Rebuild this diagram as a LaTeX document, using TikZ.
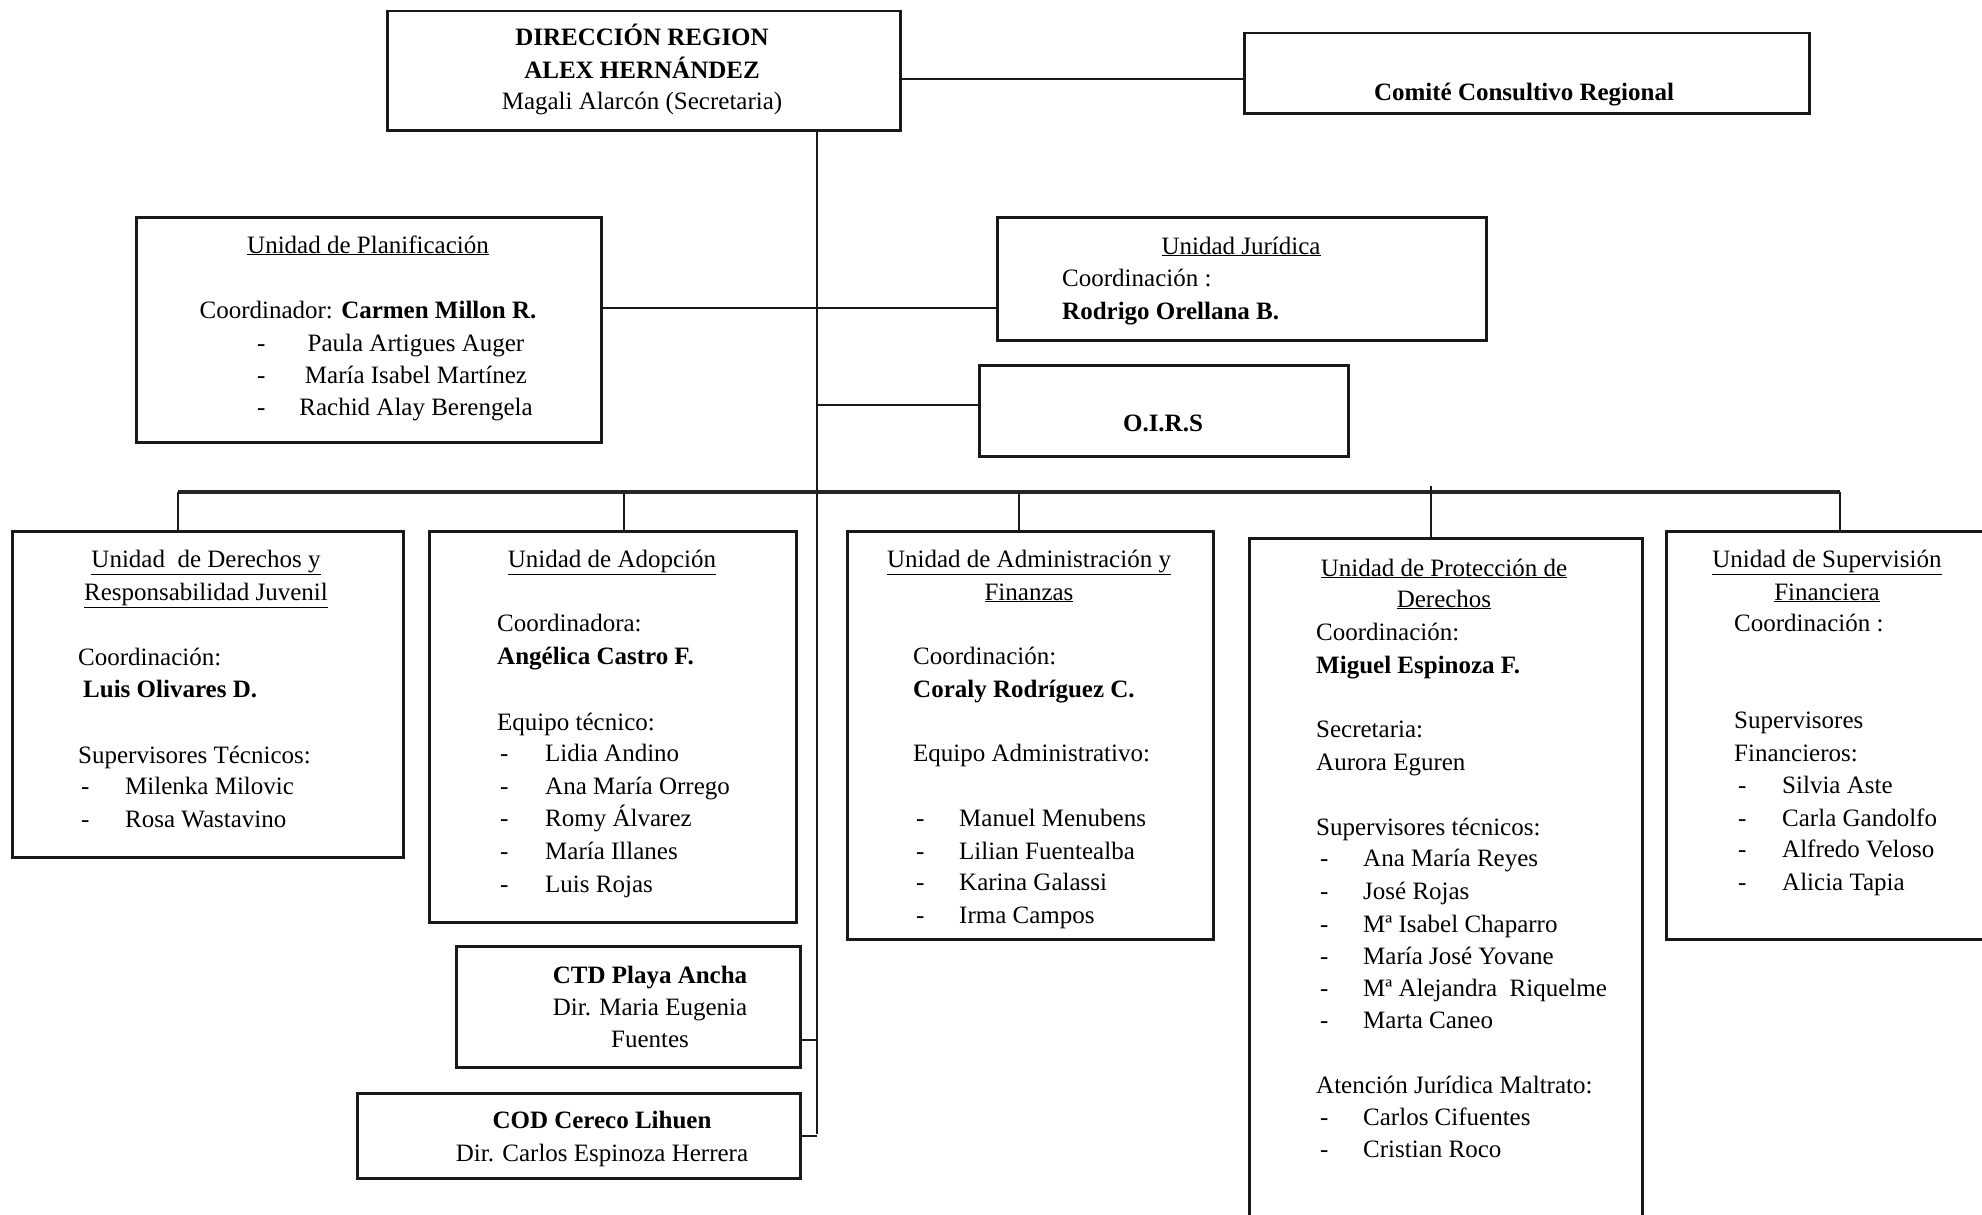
\documentclass[tikz,border=0pt]{standalone}
\usepackage{fontspec}
\setmainfont{Liberation Serif}
\newcommand\bodyfont{\fontsize{25}{32.5}\selectfont}
\newcounter{tno}
\newcommand\tx[4][base west]{\stepcounter{tno}\node[txt,anchor=#1] (tx\arabic{tno}) at (#2,#3) {#4};}
\newcommand\itm[4]{\tx{#1}{#3}{-}\tx{#2}{#3}{#4}}
\begin{document}
\begin{tikzpicture}[x=1pt,y=-1pt,
  box/.style={draw=black!90, line width=2.5pt, anchor=north west, inner sep=0pt, fill=none},
  conn/.style={draw=black!90, line width=2pt},
  busline/.style={draw=black!85, line width=3.4pt},
  txt/.style={inner sep=0pt, font=\bodyfont, text=black}]
\useasboundingbox (0,0) rectangle (1982,1215);
\clip (0,0) rectangle (1982,1215);
\fill[white] (0,0) rectangle (1982,1215);

% boxes
\node[box, minimum width=513pt, minimum height=119pt] (dir) at (386,10) {};
\node[box, minimum width=565pt, minimum height=80pt] (com) at (1243,32) {};
\node[box, minimum width=465pt, minimum height=225pt] (plan) at (135,216) {};
\node[box, minimum width=489pt, minimum height=123pt] (jur) at (996,216) {};
\node[box, minimum width=369pt, minimum height=91pt] (oirs) at (978,364) {};
\node[box, minimum width=391pt, minimum height=326pt] (der) at (11,530) {};
\node[box, minimum width=367pt, minimum height=391pt] (adop) at (428,530) {};
\node[box, minimum width=366pt, minimum height=408pt] (adm) at (846,530) {};
\node[box, minimum width=393pt, minimum height=720pt] (prot) at (1248,537) {};
\node[box, minimum width=330pt, minimum height=408pt] (sup) at (1665,530) {};
\node[box, minimum width=344pt, minimum height=121pt] (ctd) at (455,945) {};
\node[box, minimum width=443pt, minimum height=85pt] (cod) at (356,1092) {};

% connectors
\coordinate (trunkbot) at (817,1134);
\draw[conn] ([yshift=-8.5pt]dir.east) -- ([yshift=-8.5pt]dir.east -| com.west);
\draw[conn] (dir.south -| trunkbot) -- (trunkbot);
\draw[conn] ([yshift=21.5pt]plan.east) -- ([yshift=21.5pt]plan.east -| jur.west);
\draw[conn] ([yshift=5.5pt]oirs.west -| trunkbot) -- ([yshift=5.5pt]oirs.west);
\coordinate (d1) at (178,492);
\coordinate (d2) at (624,492);
\coordinate (d3) at (1019,492);
\coordinate (d4) at (1431,492);
\coordinate (d5) at (1840,492);
\draw[busline] (d1) -- (d5);
\draw[conn] (d1) -- (d1 |- der.north);
\draw[conn] (d2) -- (d2 |- adop.north);
\draw[conn] (d3) -- (d3 |- adm.north);
\draw[conn] ([yshift=6pt]d4) -- (d4 |- prot.north);
\draw[conn] (d5) -- (d5 |- sup.north);
\draw[conn] ([yshift=-33.5pt]ctd.east) -- ([yshift=-33.5pt]ctd.east -| trunkbot);
\draw[conn] (cod.east) -- (cod.east -| trunkbot);

% Direccion
\tx[base]{642}{46}{\textbf{DIRECCIÓN REGION}}
\tx[base]{642}{78}{\textbf{ALEX HERNÁNDEZ}}
\tx[base]{642}{110}{Magali Alarcón (Secretaria)}
% Comite
\tx[base]{1524}{100}{\textbf{Comité Consultivo Regional}}
% Planificacion
\tx[base]{368}{253}{\underline{Unidad de Planificación}}
\tx[base]{368}{318}{Coordinador: \textbf{Carmen Millon R.}}
\tx{257}{351}{-}\tx[base]{416}{351}{Paula Artigues Auger}
\tx{257}{383}{-}\tx[base]{416}{383}{María Isabel Martínez}
\tx{257}{415}{-}\tx[base]{416}{415}{Rachid Alay Berengela}
% Juridica
\tx[base]{1241}{254}{\underline{Unidad Jurídica}}
\tx{1062}{286}{Coordinación :}
\tx{1062}{319}{\textbf{Rodrigo Orellana B.}}
% OIRS
\tx[base]{1163}{431}{\textbf{O.I.R.S}}
% Derechos
\tx[base]{206}{567}{\underline{Unidad\ \ de Derechos y}}
\tx[base]{206}{600}{\underline{Responsabilidad Juvenil}}
\tx{78}{665}{Coordinación:}
\tx{83}{697}{\textbf{Luis Olivares D.}}
\tx{78}{763}{Supervisores Técnicos:}
\itm{81}{125}{794}{Milenka Milovic}
\itm{81}{125}{827}{Rosa Wastavino}
% Adopcion
\tx[base]{612}{567}{\underline{Unidad de Adopción}}
\tx{497}{631}{Coordinadora:}
\tx{497}{664}{\textbf{Angélica Castro F.}}
\tx{497}{730}{Equipo técnico:}
\itm{500}{545}{761}{Lidia Andino}
\itm{500}{545}{794}{Ana María Orrego}
\itm{500}{545}{826}{Romy Álvarez}
\itm{500}{545}{859}{María Illanes}
\itm{500}{545}{892}{Luis Rojas}
% Administracion
\tx[base]{1029}{567}{\underline{Unidad de Administración y}}
\tx[base]{1029}{600}{\underline{Finanzas}}
\tx{913}{664}{Coordinación:}
\tx{913}{697}{\textbf{Coraly Rodríguez C.}}
\tx{913}{761}{Equipo Administrativo:}
\itm{916}{959}{826}{Manuel Menubens}
\itm{916}{959}{859}{Lilian Fuentealba}
\itm{916}{959}{890}{Karina Galassi}
\itm{916}{959}{923}{Irma Campos}
% Proteccion
\tx[base]{1444}{576}{\underline{Unidad de Protección de}}
\tx[base]{1444}{607}{\underline{Derechos}}
\tx{1316}{640}{Coordinación:}
\tx{1316}{673}{\textbf{Miguel Espinoza F.}}
\tx{1316}{737}{Secretaria:}
\tx{1316}{770}{Aurora Eguren}
\tx{1316}{835}{Supervisores técnicos:}
\itm{1320}{1363}{866}{Ana María Reyes}
\itm{1320}{1363}{899}{José Rojas}
\itm{1320}{1363}{932}{Mª Isabel Chaparro}
\itm{1320}{1363}{964}{María José Yovane}
\itm{1320}{1363}{996}{Mª Alejandra\ \ Riquelme}
\itm{1320}{1363}{1028}{Marta Caneo}
\tx{1316}{1093}{Atención Jurídica Maltrato:}
\itm{1320}{1363}{1125}{Carlos Cifuentes}
\itm{1320}{1363}{1157}{Cristian Roco}
% Supervision
\tx[base]{1827}{567}{\underline{Unidad de Supervisión}}
\tx[base]{1827}{600}{\underline{Financiera}}
\tx{1734}{631}{Coordinación :}
\tx{1734}{728}{Supervisores}
\tx{1734}{761}{Financieros:}
\itm{1738}{1782}{793}{Silvia Aste}
\itm{1738}{1782}{826}{Carla Gandolfo}
\itm{1738}{1782}{857}{Alfredo Veloso}
\itm{1738}{1782}{890}{Alicia Tapia}
% CTD
\tx[base]{650}{983}{\textbf{CTD Playa Ancha}}
\tx[base]{650}{1015}{Dir. Maria Eugenia}
\tx[base]{650}{1047}{Fuentes}
% COD
\tx[base]{602}{1128}{\textbf{COD Cereco Lihuen}}
\tx[base]{602}{1161}{Dir. Carlos Espinoza Herrera}
\end{tikzpicture}
\end{document}
